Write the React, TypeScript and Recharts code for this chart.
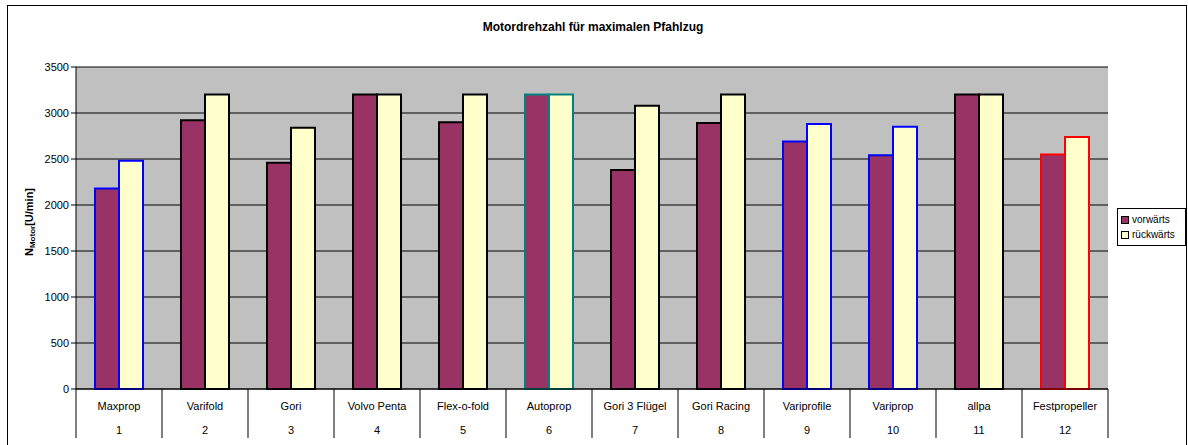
import React from 'react'
import {
  BarChart, Bar, XAxis, YAxis, CartesianGrid, Cell,
} from 'recharts'

const categories = ['Maxprop', 'Varifold', 'Gori', 'Volvo Penta', 'Flex-o-fold', 'Autoprop',
  'Gori 3 Flügel', 'Gori Racing', 'Variprofile', 'Variprop', 'allpa', 'Festpropeller']
const numbers = ['1', '2', '3', '4', '5', '6', '7', '8', '9', '10', '11', '12']
const vorwaerts = [2180, 2920, 2460, 3200, 2900, 3200, 2380, 2890, 2690, 2540, 3200, 2550]
const rueckwaerts = [2480, 3200, 2840, 3200, 3200, 3200, 3080, 3200, 2880, 2850, 3200, 2740]
const borders = ['#0000FF', '#000000', '#000000', '#000000', '#000000', '#008080',
  '#000000', '#000000', '#0000FF', '#0000FF', '#000000', '#FF0000']
const yTicks = [0, 500, 1000, 1500, 2000, 2500, 3000, 3500]

const data = categories.map((name, i) => ({
  name,
  num: numbers[i],
  vorwaerts: vorwaerts[i],
  rueckwaerts: rueckwaerts[i],
}))

const W = 1188
const H = 445
const PLOT_LEFT = 76
const PLOT_RIGHT = 1108
const PLOT_TOP = 67
const PLOT_BOTTOM = 389
const BAND = (PLOT_RIGHT - PLOT_LEFT) / categories.length
const FONT = '"Liberation Sans", Arial, sans-serif'

function XTick(props: any) {
  const { x, index, payload } = props
  const d = data[index] || { name: payload.value, num: '' }
  return (
    <g>
      {index === 0 && (
        <line x1={x - BAND / 2} x2={x - BAND / 2} y1={PLOT_BOTTOM} y2={438} stroke="#000" />
      )}
      <line x1={x + BAND / 2} x2={x + BAND / 2} y1={PLOT_BOTTOM} y2={438} stroke="#000" />
      <text x={x} y={PLOT_BOTTOM + 21} textAnchor="middle" fontSize={11} fill="#000" fontFamily={FONT}>{d.name}</text>
      <text x={x} y={PLOT_BOTTOM + 45} textAnchor="middle" fontSize={11} fill="#000" fontFamily={FONT}>{d.num}</text>
    </g>
  )
}

function LegendBox() {
  const item = (fill: string, label: string) => (
    <div style={{ display: 'flex', alignItems: 'center', height: 15 }}>
      <span style={{ display: 'inline-block', width: 6, height: 6, background: fill, border: '1px solid #000', marginRight: 3 }} />
      <span>{label}</span>
    </div>
  )
  return (
    <div style={{
      position: 'absolute', left: 1117, top: 208,
      border: '1px solid #000', background: '#fff', padding: '3px', width: 61,
      fontSize: 10, fontFamily: FONT, color: '#000', lineHeight: '15px',
    }}>
      {item('#993366', 'vorwärts')}
      {item('#FFFFCC', 'rückwärts')}
    </div>
  )
}

export default function App() {
  return (
    <div style={{ position: 'absolute', left: 0, top: 0, width: W, height: H, background: '#fff', overflow: 'hidden' }}>
      <div style={{ position: 'absolute', left: 7, top: 5, width: 1178, height: 460, border: '1px solid #000' }} />
      <div style={{
        position: 'absolute', left: 0, top: 20, width: W - 2, textAlign: 'center',
        fontFamily: FONT, fontWeight: 'bold', fontSize: 12, color: '#000',
      }}>
        Motordrehzahl für maximalen Pfahlzug
      </div>
      <BarChart
        width={W}
        height={H}
        data={data}
        margin={{ top: PLOT_TOP, right: W - PLOT_RIGHT, left: 0, bottom: 0 }}
        barGap={0}
        barSize={24}
        style={{ position: 'absolute', left: 0, top: 0 }}
      >
        <CartesianGrid vertical={false} stroke="#000" fill="#C0C0C0" fillOpacity={1} />
        <XAxis
          dataKey="name"
          height={H - PLOT_BOTTOM}
          axisLine={{ stroke: '#000' }}
          tickLine={false}
          interval={0}
          tick={<XTick />}
        />
        <YAxis
          width={PLOT_LEFT}
          domain={[0, 3500]}
          ticks={yTicks}
          interval={0}
          axisLine={{ stroke: '#000' }}
          tickLine={{ stroke: '#000' }}
          tickSize={5}
          tick={{ fontSize: 11, fill: '#000', fontFamily: FONT }}
          label={{
            content: () => (
              <text
                transform={`translate(33, 222) rotate(-90)`}
                textAnchor="middle"
                fontFamily={FONT}
                fontWeight="bold"
                fontSize={11}
                fill="#000"
              >
                N<tspan fontSize={8} dy={2}>Motor</tspan><tspan dy={-2}>[U/min]</tspan>
              </text>
            ),
          }}
        />
        <Bar dataKey="vorwaerts" name="vorwärts" fill="#993366" strokeWidth={2} isAnimationActive={false}>
          {data.map((_, i) => <Cell key={i} stroke={borders[i]} />)}
        </Bar>
        <Bar dataKey="rueckwaerts" name="rückwärts" fill="#FFFFCC" strokeWidth={2} isAnimationActive={false}>
          {data.map((_, i) => <Cell key={i} stroke={borders[i]} />)}
        </Bar>
      </BarChart>
      <LegendBox />
    </div>
  )
}
